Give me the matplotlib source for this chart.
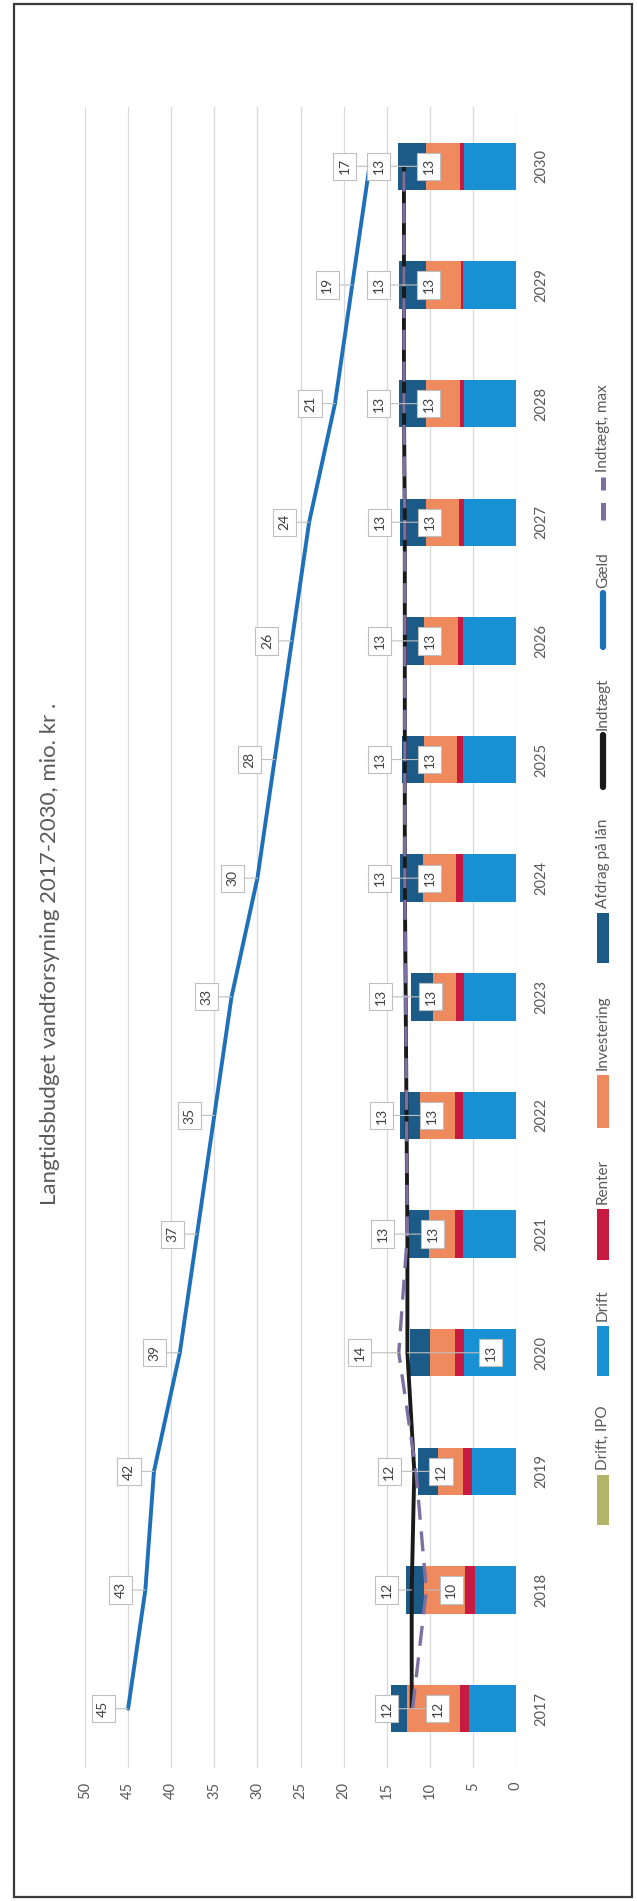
import matplotlib
matplotlib.use("Agg")
import matplotlib.pyplot as plt
from matplotlib.patches import Rectangle
from matplotlib.lines import Line2D
import numpy as np

plt.rcParams['font.family'] = ['Lato', 'DejaVu Sans']

# ---------------- data ----------------
years = [str(y) for y in range(2017, 2031)]
drift_ipo = [0, 0, 0, 0, 0, 0, 0, 0, 0, 0, 0, 0, 0, 0]
drift = [5.4, 4.75, 5.1, 6.05, 6.1, 6.1, 6.0, 6.2, 6.2, 6.2, 6.05, 6.0, 6.1, 6.05]
renter = [1.05, 1.15, 1.0, 1.08, 0.96, 0.96, 0.96, 0.77, 0.66, 0.58, 0.58, 0.5, 0.27, 0.39]
investering = [6.2, 4.8, 3.0, 2.9, 3.0, 4.05, 2.7, 3.86, 3.8, 3.86, 3.86, 3.94, 4.1, 3.97]
afdrag = [1.9, 2.05, 2.3, 2.3, 2.3, 2.4, 2.5, 2.6, 2.6, 2.5, 2.97, 3.1, 3.1, 3.3]
indtaegt = [12.1, 12.1, 11.8, 12.6, 12.6, 12.7, 12.8, 12.9, 12.9, 12.9, 12.9, 13.0, 13.0, 13.0]
gaeld = [45, 43, 42, 39, 37, 35, 33, 30, 28, 26, 24, 21, 19, 17]
indtaegt_max = [12.0, 10.4, 11.6, 13.6, 12.6, 12.7, 12.8, 12.9, 12.9, 12.9, 12.9, 13.0, 13.0, 13.0]
value_ticks = list(range(0, 51, 5))
title = "Langtidsbudget vandforsyning 2017-2030, mio. kr ."

# ---------------- style ----------------
C_IPO = '#B4B56C'
C_DRIFT = '#1791D3'
C_RENTER = '#C71A40'
C_INV = '#EF8A5E'
C_AFD = '#1C5A88'
C_IND = '#1A1A1A'
C_GAELD = '#1E70BA'
C_MAX = '#7D70A0'
TXT = '#595959'

W, H = 637, 1901
fig = plt.figure(figsize=(W / 100, H / 100), dpi=100)
fig.patch.set_facecolor('white')

def fx(px):
    return px / W

def fy(py):
    return 1 - py / H

ax_left, ax_right, ax_top, ax_bot = 85, 516, 107, 1768
ax = fig.add_axes([fx(ax_left), fy(ax_bot), (ax_right - ax_left) / W, (ax_bot - ax_top) / H])
ax.set_facecolor('none')

y = np.arange(len(years))
series = [(drift_ipo, C_IPO), (drift, C_DRIFT), (renter, C_RENTER),
          (investering, C_INV), (afdrag, C_AFD)]
left = np.zeros(len(years))
for vals, col in series:
    v = np.array(vals, dtype=float)
    ax.barh(y, v, left=left, height=0.4, color=col, zorder=2, linewidth=0)
    left += v

ax.plot(indtaegt, y, color=C_IND, lw=2.8, zorder=3, solid_capstyle='butt')
ax.plot(indtaegt_max, y, color=C_MAX, lw=2.4, zorder=4, dashes=(6, 3.5))
ax.plot(gaeld, y, color=C_GAELD, lw=2.8, zorder=4, solid_capstyle='round')

ax.set_xlim(50, 0)
ax.set_ylim(-0.5, len(years) - 0.5)
ax.set_xticks(value_ticks)
ax.set_xticklabels([str(t) for t in value_ticks])
ax.grid(axis='x', color='#D9D9D9', lw=0.9, zorder=0)
ax.tick_params(axis='x', length=0, pad=10, labelsize=10.5, labelcolor=TXT, labelrotation=90)
ax.set_yticks(y)
ax.set_yticklabels(years, rotation=90, va='center')
ax.yaxis.tick_right()
ax.tick_params(axis='y', length=0, pad=13, labelsize=10.5, labelcolor=TXT)
for s in ax.spines.values():
    s.set_visible(False)

# data labels (callouts)
box = dict(boxstyle='square,pad=0.4', fc='white', ec='#BFBFBF', lw=0.8)
arrow = dict(arrowstyle='-', color='#BFBFBF', lw=0.8, shrinkA=0, shrinkB=0)
off_ind = [-18, -18, -18, 60, -18, -18, -18, -18, -18, -18, -18, -18, -18, -18]
off_max = [18, 18, 18, -28, 18, 18, 18, 18, 18, 18, 18, 18, 18, 18]

def label(vals, offs):
    for i, v in enumerate(vals):
        ax.annotate(f"{v:.0f}", xy=(v, i), xytext=(offs[i], 0), textcoords='offset points',
                    rotation=90, ha='center', va='center', fontsize=10, color='#404040',
                    bbox=box, arrowprops=arrow, zorder=6)

label(gaeld, [-18] * len(years))
label(indtaegt, off_ind)
label(indtaegt_max, off_max)

# title
fig.text(fx(50), fy(954), title, rotation=90, ha='center', va='center',
         fontsize=16, color=TXT)

# legend (rotated, drawn manually)
legend_items = [
    ("Drift, IPO", 'patch', C_IPO, 1525, 1475),
    ("Drift", 'patch', C_DRIFT, 1376, 1326),
    ("Renter", 'patch', C_RENTER, 1260, 1209),
    ("Investering", 'patch', C_INV, 1128, 1075),
    ("Afdrag på lån", 'patch', C_AFD, 963, 913),
    ("Indtægt", 'line', C_IND, 787, 735),
    ("Gæld", 'line', C_GAELD, 647, 593),
    ("Indtægt, max", 'dash', C_MAX, 520, 477),
]
lx = 603
for name, kind, col, yb, yt in legend_items:
    if kind == 'patch':
        fig.add_artist(Rectangle((fx(lx - 6), fy(yb)), 12 / W, (yb - yt) / H,
                                 transform=fig.transFigure, color=col, lw=0))
    elif kind == 'line':
        fig.add_artist(Line2D([fx(lx), fx(lx)], [fy(yb), fy(yt)], transform=fig.transFigure,
                              color=col, lw=4.5, solid_capstyle='round'))
    else:
        fig.add_artist(Line2D([fx(lx), fx(lx)], [fy(yb), fy(yt)], transform=fig.transFigure,
                              color=col, lw=3.6, dashes=(3.5, 2.5)))
    fig.text(fx(lx), fy(yt - 5), name, rotation=90, rotation_mode='anchor',
             ha='left', va='center', fontsize=11, color=TXT)

# chart border
fig.add_artist(Rectangle((fx(14), fy(1897)), (632 - 14) / W, (1897 - 4) / H,
                         transform=fig.transFigure, fill=False, ec='#3A3A3A', lw=1.6))

fig.savefig('out.png', dpi=100, facecolor='white')
